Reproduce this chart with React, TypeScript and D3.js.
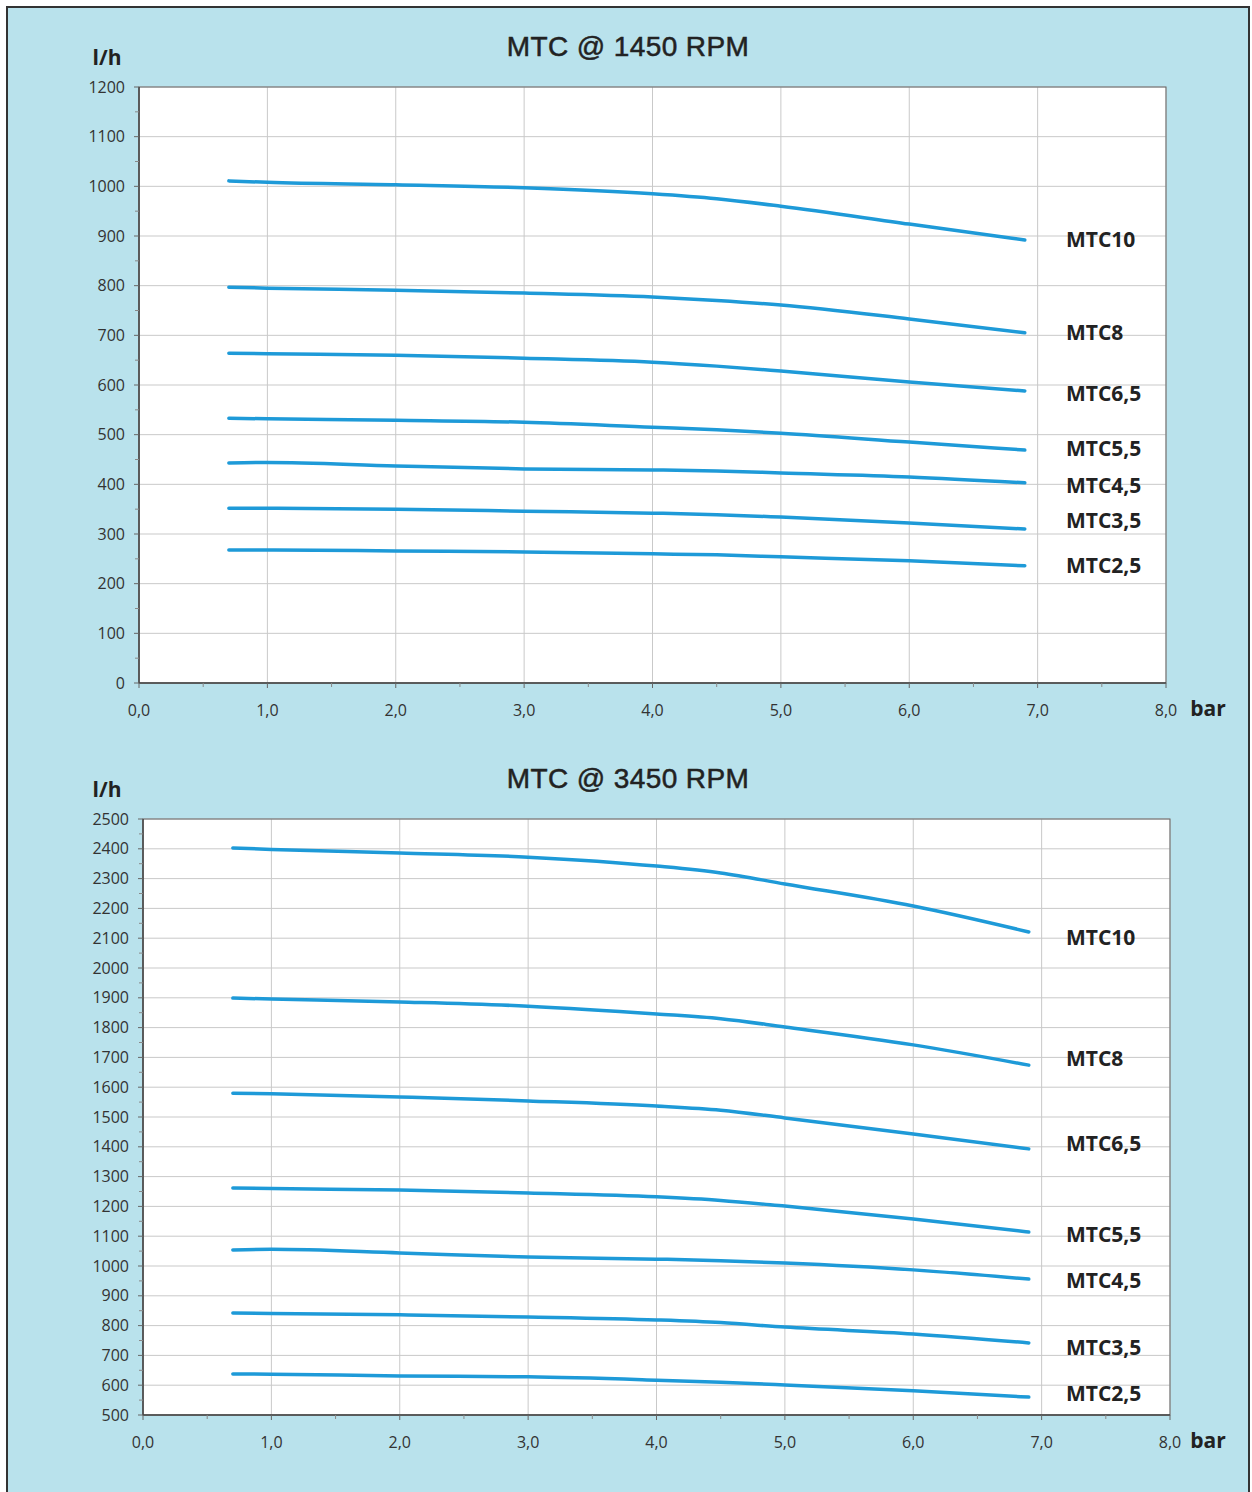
import React from "react";
import * as d3 from "d3";

const pressures = [0.7, 1.0, 2.0, 3.0, 4.0, 4.5, 5.0, 6.0, 6.9];
const models = ["MTC10", "MTC8", "MTC6,5", "MTC5,5", "MTC4,5", "MTC3,5", "MTC2,5"];

const flow1450: number[][] = [
  [1011, 1008, 1003, 997, 985, 975, 960, 924, 892],
  [797, 795, 791, 785, 777, 770, 761, 733, 705],
  [664, 663, 660, 654, 646, 638, 628, 606, 588],
  [533, 532, 529, 525, 515, 510, 503, 485, 469],
  [443, 444, 437, 431, 429, 427, 423, 415, 403],
  [352, 352, 350, 346, 342, 339, 334, 322, 310],
  [268, 268, 266, 264, 260, 258, 254, 246, 236],
];
const flow3450: number[][] = [
  [2403, 2398, 2386, 2372, 2342, 2319, 2282, 2208, 2121],
  [1899, 1896, 1886, 1872, 1846, 1830, 1802, 1742, 1674],
  [1580, 1578, 1567, 1554, 1537, 1523, 1497, 1443, 1393],
  [1262, 1260, 1255, 1245, 1232, 1220, 1201, 1158, 1114],
  [1054, 1056, 1044, 1030, 1023, 1018, 1010, 987, 956],
  [842, 841, 836, 829, 819, 810, 795, 772, 742],
  [638, 637, 631, 628, 617, 610, 601, 581, 560],
];
const labelY1450 = [892, 705, 582, 471, 397, 326, 235];
const labelY3450 = [2100, 1695, 1410, 1105, 950, 725, 570];
const xTicks = [0, 1, 2, 3, 4, 5, 6, 7, 8];
const yTicks1450 = d3.range(0, 1201, 100);
const yTicks3450 = d3.range(500, 2501, 100);

const BG = "#b9e2ec";
const LINE = "#1e9ad8";
const GRID = "#c9c9c9";
const fmtX = (v: number) => v.toFixed(1).replace(".", ",");

type PanelProps = {
  title: string;
  left: number; right: number; top: number; bottom: number;
  yDomain: [number, number];
  yTicks: number[];
  data: number[][];
  labelY: number[];
  titleY: number;
};

function Panel(p: PanelProps) {
  const x = d3.scaleLinear().domain([0, 8]).range([p.left, p.right]);
  const y = d3.scaleLinear().domain(p.yDomain).range([p.bottom, p.top]);
  const line = d3
    .line<number>()
    .x((_, i) => x(pressures[i]))
    .y((d) => y(d))
    .curve(d3.curveMonotoneX);
  const minorY = d3.range(p.yDomain[0] + 50, p.yDomain[1], 100);
  const minorX = d3.range(0.5, 8, 1);
  const tickFont = "'Open Sans', 'Noto Sans', sans-serif";
  return (
    <g>
      <text x={628} y={p.titleY} textAnchor="middle" fontFamily="'Liberation Sans', Arial, sans-serif" fontSize={28} letterSpacing={0.4} fill="#222" stroke="#222" strokeWidth={0.5}>
        {p.title}
      </text>
      <text x={107} y={p.titleY + 9} textAnchor="middle" fontFamily={tickFont} fontWeight={700} fontSize={21} fill="#222">
        l/h
      </text>
      <rect x={p.left} y={p.top} width={p.right - p.left} height={p.bottom - p.top} fill="#fff" />
      {p.yTicks.map((t) => (
        <line key={"gy" + t} x1={p.left} x2={p.right} y1={y(t)} y2={y(t)} stroke={GRID} strokeWidth={1} />
      ))}
      {xTicks.map((t) => (
        <line key={"gx" + t} x1={x(t)} x2={x(t)} y1={p.top} y2={p.bottom} stroke={GRID} strokeWidth={1} />
      ))}
      <rect x={p.left} y={p.top} width={p.right - p.left} height={p.bottom - p.top} fill="none" stroke="#666" strokeWidth={1} />
      <line x1={p.left} x2={p.left} y1={p.top} y2={p.bottom} stroke="#444" strokeWidth={1.5} />
      <line x1={p.left} x2={p.right} y1={p.bottom} y2={p.bottom} stroke="#444" strokeWidth={1.5} />
      {p.yTicks.map((t) => (
        <g key={"ty" + t}>
          <line x1={p.left - 5} x2={p.left} y1={y(t)} y2={y(t)} stroke="#666" />
          <text x={p.left - 14} y={y(t) + 5.5} textAnchor="end" fontFamily={tickFont} fontSize={16} fill="#333">
            {t}
          </text>
        </g>
      ))}
      {minorY.map((t) => (
        <line key={"my" + t} x1={p.left - 4} x2={p.left} y1={y(t)} y2={y(t)} stroke="#888" />
      ))}
      {xTicks.map((t) => (
        <g key={"tx" + t}>
          <line x1={x(t)} x2={x(t)} y1={p.bottom} y2={p.bottom + 5} stroke="#666" />
          <text x={x(t)} y={p.bottom + 33} textAnchor="middle" fontFamily={tickFont} fontSize={16} fill="#333">
            {fmtX(t)}
          </text>
        </g>
      ))}
      {minorX.map((t) => (
        <line key={"mx" + t} x1={x(t)} x2={x(t)} y1={p.bottom} y2={p.bottom + 4} stroke="#888" />
      ))}
      <text x={1208} y={p.bottom + 33} textAnchor="middle" fontFamily={tickFont} fontWeight={700} fontSize={21} fill="#222">
        bar
      </text>
      {p.data.map((s, i) => (
        <path key={"s" + i} d={line(s) || ""} fill="none" stroke={LINE} strokeWidth={3.5} strokeLinecap="round" />
      ))}
      {models.map((m, i) => (
        <text key={"l" + m} x={1066} y={y(p.labelY[i]) + 7} fontFamily={tickFont} fontWeight={700} fontSize={21} fill="#222">
          {m}
        </text>
      ))}
    </g>
  );
}

export default function App() {
  return (
    <svg
      width={1252}
      height={1492}
      style={{ position: "absolute", left: 0, top: 0 }}
      xmlns="http://www.w3.org/2000/svg"
    >
      <rect x={0} y={0} width={1252} height={1492} fill="#fff" />
      <rect x={7} y={7} width={1242} height={1495} fill={BG} stroke="#333" strokeWidth={2} />
      <Panel
        title="MTC @ 1450 RPM"
        left={139}
        right={1166}
        top={87}
        bottom={683}
        yDomain={[0, 1200]}
        yTicks={yTicks1450}
        data={flow1450}
        labelY={labelY1450}
        titleY={56}
      />
      <Panel
        title="MTC @ 3450 RPM"
        left={143}
        right={1170}
        top={819}
        bottom={1415}
        yDomain={[500, 2500]}
        yTicks={yTicks3450}
        data={flow3450}
        labelY={labelY3450}
        titleY={788}
      />
    </svg>
  );
}
